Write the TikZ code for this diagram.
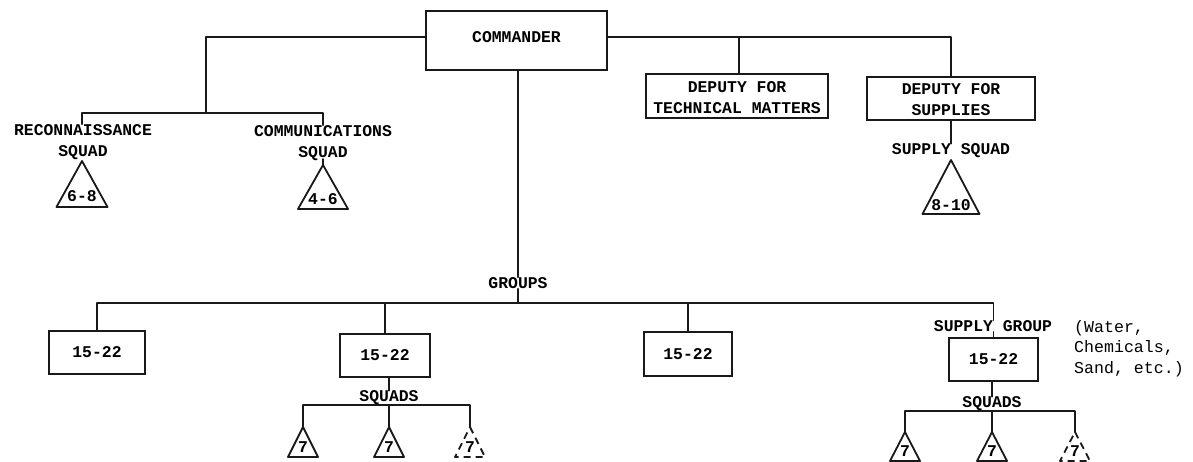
\documentclass[tikz,border=0pt]{standalone}
\usepackage{fontspec}
\setmainfont{Liberation Mono}
\usetikzlibrary{calc}
\tikzset{
  x=1pt,y=-1pt,
  wire/.style={draw=black!90,line width=1.7pt,line cap=round,line join=round},
  boxnode/.style={draw=black!90,line width=1.9pt,inner sep=0pt,fill=white,align=center,font=\bfseries\fontsize{16.4}{21}\selectfont},
  label/.style={inner sep=0pt,align=center,font=\bfseries\fontsize{16.4}{21}\selectfont},
  note/.style={inner sep=0pt,align=left,font=\fontsize{16.6}{20.5}\selectfont},
  trinum/.style={inner sep=0pt,font=\bfseries\fontsize{16.4}{20}\selectfont},
  triline/.style={draw=black!90,line width=1.8pt,line join=round},
  tridash/.style={triline,dash pattern=on 7pt off 5pt},
}
% name, apex x, apex y, half width, height, text, style, text y offset
\newcommand{\tribox}[8]{%
  \coordinate (#1) at (#2,#3);
  \draw[#7] (#1) -- ++(#4,#5) -- ++(-2*#4,0) -- cycle;
  \node[trinum] (#1txt) at ($(#1)+(0,#8)$) {#6};
}
\begin{document}
\begin{tikzpicture}
\useasboundingbox (0,0) rectangle (1193,462);
\fill[white] (0,0) rectangle (1193,462);

% boxes
\node[boxnode,minimum width=181pt,minimum height=59pt] (cmd) at (516.5,40.5) {\raisebox{-2pt}[0pt][0pt]{COMMANDER}};
\node[boxnode,minimum width=182pt,minimum height=44pt] (tech) at (737,96) {\rule{0pt}{14pt}DEPUTY FOR\\TECHNICAL MATTERS};
\node[boxnode,minimum width=168pt,minimum height=43pt] (sup) at (951,98.5) {\rule{0pt}{13pt}DEPUTY FOR\\SUPPLIES};
\node[boxnode,minimum width=96pt,minimum height=43pt] (g1) at (97,352.5) {15-22};
\node[boxnode,minimum width=90pt,minimum height=43pt] (g2) at (385,355.5) {15-22};
\node[boxnode,minimum width=88pt,minimum height=44pt] (g3) at (688,354) {15-22};
\node[boxnode,minimum width=89pt,minimum height=43pt] (g4) at (993.5,359.5) {15-22};

% labels
\node[label] (recon) at (83,142) {RECONNAISSANCE\\SQUAD};
\node[label] (comm) at (323,143) {COMMUNICATIONS\\SQUAD};
\node[label] (supsq) at (951,151) {SUPPLY SQUAD};
\node[label] (groups) at (518,283) {GROUPS};
\node[label] (supgr) at (993,326) {SUPPLY GROUP};
\node[label] (sq2) at (389,398) {SQUADS};
\node[label] (sq4) at (992,404) {SQUADS};
\node[note,anchor=north west] (note) at (1074,320) {(Water,\\Chemicals,\\Sand, etc.)};

% triangles
\tribox{t1}{82}{161}{25.5}{46}{6-8}{triline}{35}
\tribox{t2}{323}{165}{25}{44}{4-6}{triline}{34}
\tribox{t3}{951}{160}{28.5}{54}{8-10}{triline}{45}
\tribox{a1}{303}{427}{15}{30}{7}{triline}{20}
\tribox{a2}{389}{427}{15}{30}{7}{triline}{20}
\tribox{a3}{470}{427}{15}{30}{7}{tridash}{20}
\tribox{b1}{905}{432}{15}{29}{7}{triline}{19}
\tribox{b2}{992}{432}{15}{29}{7}{triline}{19}
\tribox{b3}{1075}{432}{15}{29}{7}{tridash}{19}

% junctions
\coordinate (jl) at (206,37);
\coordinate (jr) at (739,37);
\coordinate (jtop) at (206,113);
\coordinate (jg) at (518,303);

% top wiring
\draw[wire] (cmd.west |- jl) -- (jl) -- (jtop);
\draw[wire] (cmd.east |- jl) -- (sup.north |- jl) -- (sup.north);
\draw[wire] (jr) -- (jr |- tech.north);
\draw[wire] (t1 |- recon.north) -- (t1 |- jtop) -- (comm.north |- jtop) -- (comm.north);
\draw[wire] (t2) -- ++(0,-6);
\draw[wire] (sup.south) -- (supsq.north);

% centre and groups
\draw[wire] (cmd.south -| jg) -- (groups.north -| jg);
\draw[wire] (groups.south -| jg) -- (jg);
\draw[wire] (g1.north) -- (g1.north |- jg) -- (g4.north |- jg) -- (g4.north |- supgr.north);
\draw[wire] (g2.north) -- (g2.north |- jg);
\draw[wire] (g3.north) -- (g3.north |- jg);
\draw[wire] (supgr.south -| g4.north) -- (g4.north);

% squads group 2
\coordinate (h2) at (389,405);
\draw[wire] (g2.south -| sq2) -- (sq2.north);
\draw[wire] (a1) -- (a1 |- h2) -- (a3 |- h2) -- (a3);
\draw[wire] (a2) -- (h2);

% squads group 4
\coordinate (h4) at (992,411);
\draw[wire] (g4.south -| sq4) -- (sq4.north);
\draw[wire] (b1) -- (b1 |- h4) -- (b3 |- h4) -- (b3);
\draw[wire] (b2) -- (h4);
\end{tikzpicture}
\end{document}
